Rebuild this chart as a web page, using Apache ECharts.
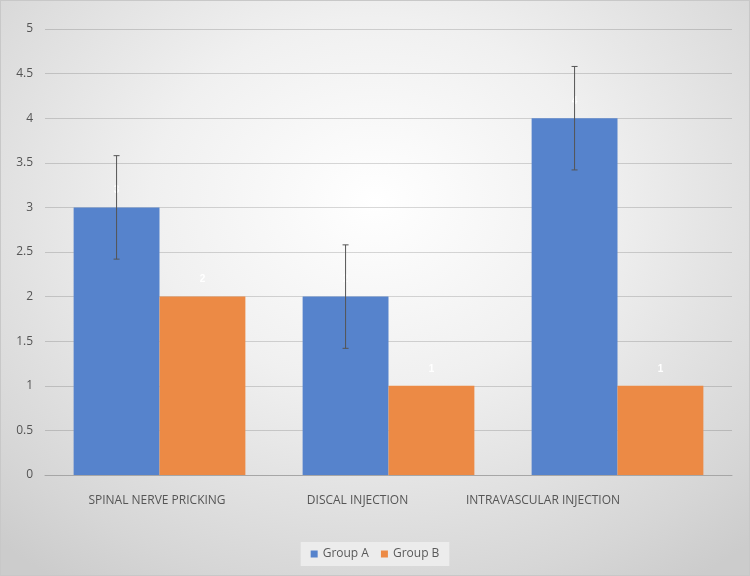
<!DOCTYPE html>
<html><head><meta charset="utf-8">
<script src="https://cdn.jsdelivr.net/npm/echarts@6/dist/echarts.min.js"></script>
<style>
html,body{margin:0;padding:0;}
#c{width:750px;height:576px;box-sizing:border-box;border:1px solid #c8c8c8;
background:radial-gradient(ellipse 75% 80% at 50% 35%, #ffffff 0%, #f0f0f0 40%, #d6d6d6 85%, #cccccc 100%);}
</style></head>
<body><div id="c"></div>
<script>
const categories = ['SPINAL NERVE PRICKING', 'DISCAL INJECTION', 'INTRAVASCULAR INJECTION'];
const groupA = [3, 2, 4];
const groupB = [2, 1, 1];
const errorA = [0.58, 0.58, 0.58];

// label horizontal shift (px padding) to mimic the reference's label placement
const labelPadRight = [5, 62, 149];

const chart = echarts.init(document.getElementById('c'));
const errData = groupA.map((v, i) => [i, v - errorA[i], v + errorA[i]]);
chart.setOption({
  backgroundColor: 'transparent',
  animation: false,
  grid: { left: 44, right: 17, top: 28, bottom: 100, containLabel: false },
  legend: {
    bottom: 9, left: 'center',
    data: ['Group A', 'Group B'],
    icon: 'rect', itemWidth: 7, itemHeight: 7, itemGap: 12,
    backgroundColor: 'rgba(240,240,240,0.8)', padding: [6, 10],
    textStyle: { color: '#595959', fontSize: 12, fontFamily: 'Open Sans' }
  },
  xAxis: {
    type: 'category',
    data: categories.map((c, i) => ({ value: c, textStyle: { padding: [0, labelPadRight[i], 0, 0] } })),
    axisLine: { lineStyle: { color: '#a6a6a6' } },
    axisTick: { show: false },
    axisLabel: { color: '#555555', fontSize: 12, fontFamily: 'Open Sans', margin: 20, interval: 0 }
  },
  yAxis: {
    type: 'value', min: 0, max: 5, interval: 0.5,
    axisLine: { show: false }, axisTick: { show: false },
    axisLabel: { color: '#555555', fontSize: 12, fontFamily: 'Open Sans', margin: 12 },
    splitLine: { lineStyle: { color: 'rgba(0,0,0,0.15)' } }
  },
  series: [
    { name: 'Group A', type: 'bar', data: groupA, barGap: '0%', barCategoryGap: '25%',
      itemStyle: { color: '#5683cc' },
      label: { show: true, position: 'top', color: '#ffffff', fontSize: 10, fontWeight: 'bold', distance: 12 } },
    { name: 'Group B', type: 'bar', data: groupB,
      itemStyle: { color: '#ec8a45' },
      label: { show: true, position: 'top', color: '#ffffff', fontSize: 10, fontWeight: 'bold', distance: 12 } },
    { type: 'custom', name: 'err', data: errData, z: 10,
      renderItem: function (params, api) {
        const idx = api.value(0);
        const lo = api.coord([idx, api.value(1)]);
        const hi = api.coord([idx, api.value(2)]);
        const band = api.size([1, 0])[0];
        const x = lo[0] - band * 0.1875;
        const cap = 3;
        const style = { stroke: '#555555', lineWidth: 1 };
        return { type: 'group', children: [
          { type: 'line', shape: { x1: x, y1: lo[1], x2: x, y2: hi[1] }, style },
          { type: 'line', shape: { x1: x - cap, y1: lo[1], x2: x + cap, y2: lo[1] }, style },
          { type: 'line', shape: { x1: x - cap, y1: hi[1], x2: x + cap, y2: hi[1] }, style }
        ]};
      } }
  ]
});
</script></body></html>
